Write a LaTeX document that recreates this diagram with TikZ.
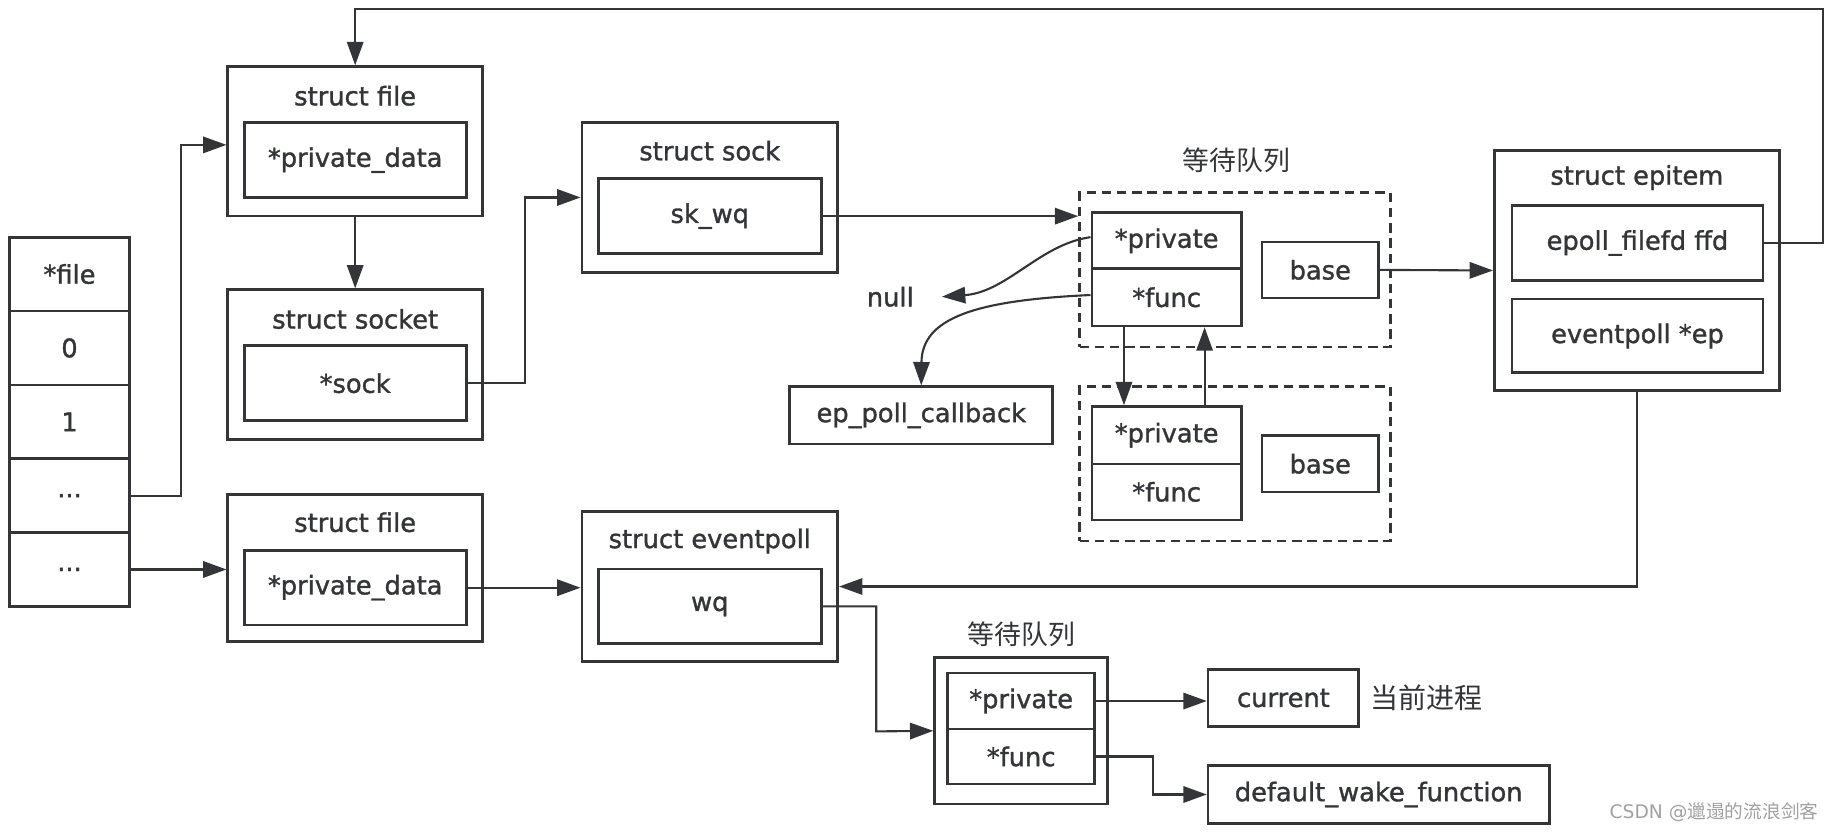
\documentclass[tikz,border=0pt]{standalone}
\usepackage{fontspec}
\setmainfont{DejaVu Sans}
\newfontfamily\txt{DejaVu Sans}[RawFeature={embolden=1.3}]
\newfontfamily\cjk{Noto Sans CJK SC}
\newfontfamily\wmfont{DejaVu Sans}
\usetikzlibrary{arrows.meta}
\definecolor{ink}{HTML}{333538}
\definecolor{wmark}{HTML}{A0A0A0}
\begin{document}
\begin{tikzpicture}[x=1pt,y=-1pt,
  every node/.style={text=ink, font=\txt\fontsize{22}{26}\selectfont},
  box/.style={draw=ink, line width=2.3pt, inner sep=0pt},
  dbox/.style={draw=ink, line width=2.3pt, dash pattern=on 8pt off 5pt, inner sep=0pt},
  conn/.style={draw=ink, line width=1.8pt, -{Triangle[length=20pt,width=14pt]}},
  ttl/.style={inner sep=0pt},
  cjkl/.style={inner sep=0pt, font=\cjk\fontsize{23}{26}\selectfont},
]
\useasboundingbox (0,0) rectangle (1568,712);

% fd table
\node[box, minimum width=103pt, minimum height=63.2pt] (fdh) at (59.5,234.6) {*file};
\node[box, minimum width=103pt, minimum height=63.2pt] (fd0) at (59.5,297.8) {0};
\node[box, minimum width=103pt, minimum height=63.2pt] (fd1) at (59.5,361.0) {1};
\node[box, minimum width=103pt, minimum height=63.2pt] (fd2) at (59.5,424.2) {...};
\node[box, minimum width=103pt, minimum height=63.2pt] (fd3) at (59.5,487.4) {...};

% struct file 1
\node[box, minimum width=218pt, minimum height=128pt] (file1) at (304,121) {};
\node[ttl] (file1t) at (304,82) {struct file};
\node[box, minimum width=190pt, minimum height=64pt] (pd1) at (304,137) {*private\_data};

% struct socket
\node[box, minimum width=218pt, minimum height=128pt] (socket) at (304,312) {};
\node[ttl] (sockett) at (304,273) {struct socket};
\node[box, minimum width=190pt, minimum height=64pt] (sockp) at (304,328) {*sock};

% struct file 2
\node[box, minimum width=218pt, minimum height=126pt] (file2) at (304,486) {};
\node[ttl] (file2t) at (304,447) {struct file};
\node[box, minimum width=190pt, minimum height=64pt] (pd2) at (304,503) {*private\_data};

% struct sock
\node[box, minimum width=219pt, minimum height=128pt] (sockbox) at (607.5,169) {};
\node[ttl] (sockboxt) at (607.5,129) {struct sock};
\node[box, minimum width=191pt, minimum height=64pt] (skwq) at (607.5,185) {sk\_wq};

% struct eventpoll
\node[box, minimum width=219pt, minimum height=128pt] (evp) at (607.5,502) {};
\node[ttl] (evpt) at (607.5,463) {struct eventpoll};
\node[box, minimum width=191pt, minimum height=64pt] (wq) at (607.5,519) {wq};

% struct epitem
\node[box, minimum width=244pt, minimum height=205pt] (epitem) at (1401,231.5) {};
\node[ttl] (epitemt) at (1401,152) {struct epitem};
\node[box, minimum width=215pt, minimum height=64pt] (ffd) at (1401.5,208) {epoll\_filefd ffd};
\node[box, minimum width=215pt, minimum height=63pt] (epp) at (1401.5,287.5) {eventpoll *ep};

% wait queue 1
\node[cjkl] (wql1) at (1058,137) {等待队列};
\node[dbox, minimum width=266pt, minimum height=132pt] (dash1) at (1057,231) {};
\node[box, minimum width=128pt, minimum height=48pt] (priv1) at (998.5,206) {*private};
\node[box, minimum width=128pt, minimum height=49pt] (func1) at (998.5,254.5) {*func};
\node[box, minimum width=100pt, minimum height=48pt] (base1) at (1130,231) {base};

% wait queue 2
\node[dbox, minimum width=266pt, minimum height=132pt] (dash2) at (1057,397) {};
\node[box, minimum width=128pt, minimum height=49pt] (priv2) at (998.5,372.5) {*private};
\node[box, minimum width=128pt, minimum height=48pt] (func2) at (998.5,421) {*func};
\node[box, minimum width=100pt, minimum height=48pt] (base2) at (1130,397) {base};

% null and ep_poll_callback
\node[inner sep=0pt, minimum width=88pt] (null) at (762,254) {null};
\node[box, minimum width=225pt, minimum height=49pt] (epcb) at (788.5,355.5) {ep\_poll\_callback};

% wait queue 3
\node[cjkl] (wql2) at (874,543) {等待队列};
\node[box, minimum width=148pt, minimum height=125pt] (outer3) at (874,625.5) {};
\node[box, minimum width=126pt, minimum height=48pt] (priv3) at (874,600) {*private};
\node[box, minimum width=126pt, minimum height=47pt] (func3) at (874,647.5) {*func};
\node[box, minimum width=129pt, minimum height=49pt] (cur) at (1098.5,597.5) {current};
\node[cjkl, font=\cjk\fontsize{24}{26}\selectfont] (curl) at (1221,597) {当前进程};
\node[box, minimum width=292pt, minimum height=50pt] (dwf) at (1180,680) {default\_wake\_function};

% watermark
\node[inner sep=0pt, text=wmark, font=\wmfont\fontsize{16}{18}\selectfont] (wmk) at (1467,695) {CSDN @{\cjk 邋遢的流浪剑客}};

% helper coordinates
\coordinate (tr) at (1560,8);
\coordinate (j1) at (155,124);
\coordinate (j2) at (449,169);
\coordinate (j3) at (750,626);
\coordinate (j4) at (987,680);

% connectors
\draw[conn] (ffd.east) -| (tr) -| (file1.north);
\draw[conn] (file1.south) -- (socket.north);
\draw[conn] (fd2.east) -| (j1) -- (file1.west |- j1);
\draw[conn] (fd3.east) -- (fd3.east -| file2.west);
\draw[conn] (sockp.east) -| (j2) -- (sockbox.west);
\draw[conn] (skwq.east) -- (skwq.east -| dash1.west);
\draw[conn] (base1.east) -- (epitem.west);
\draw[conn] (epitem.south) |- (evp.east);
\draw[conn] (pd2.east) -- (pd2.east -| evp.west);
\draw[conn] (wq.east) -| (j3) -- (outer3.west);
\draw[conn] (priv3.east) -- (priv3.east -| cur.west);
\draw[conn] (func3.east) -| (j4) -- (dwf.west);
\draw[conn] ([xshift=-36.5pt]func1.south) -- ([xshift=-36.5pt]priv2.north);
\draw[conn] ([xshift=32.5pt]priv2.north) -- ([xshift=32.5pt]func1.south);
\draw[conn] ([yshift=3pt]priv1.west) .. controls (890,209) and (862,250) .. (null.east);
\draw[conn] ([yshift=2pt]func1.west) .. controls (835,257) and (789,272) .. (epcb.north);
\end{tikzpicture}
\end{document}
